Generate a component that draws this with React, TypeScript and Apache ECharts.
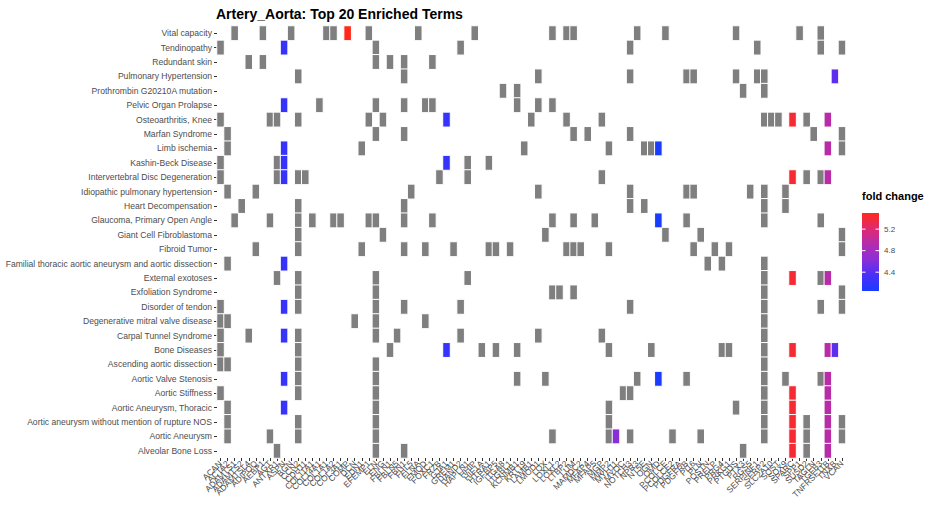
import React, { useEffect, useRef } from "react";
import * as echarts from "echarts";

const terms = [
  "Vital capacity",
  "Tendinopathy",
  "Redundant skin",
  "Pulmonary Hypertension",
  "Prothrombin G20210A mutation",
  "Pelvic Organ Prolapse",
  "Osteoarthritis, Knee",
  "Marfan Syndrome",
  "Limb ischemia",
  "Kashin-Beck Disease",
  "Intervertebral Disc Degeneration",
  "Idiopathic pulmonary hypertension",
  "Heart Decompensation",
  "Glaucoma, Primary Open Angle",
  "Giant Cell Fibroblastoma",
  "Fibroid Tumor",
  "Familial thoracic aortic aneurysm and aortic dissection",
  "External exotoses",
  "Exfoliation Syndrome",
  "Disorder of tendon",
  "Degenerative mitral valve disease",
  "Carpal Tunnel Syndrome",
  "Bone Diseases",
  "Ascending aortic dissection",
  "Aortic Valve Stenosis",
  "Aortic Stiffness",
  "Aortic Aneurysm, Thoracic",
  "Aortic aneurysm without mention of rupture NOS",
  "Aortic Aneurysm",
  "Alveolar Bone Loss",
];

const genes = [
  "ACAN", "ACTA2", "ADAMTS1", "ADAMTS2", "ADAMTSL4", "ADIPOQ", "AEBP1", "AGT", "ANTXR1", "ASPN",
  "BGN", "CCN2", "CDH11", "COL11A1", "COL14A1", "COL1A1", "COL1A2", "COL3A1", "COMP", "DCN",
  "EDN1", "EFEMP1", "ELN", "ENG", "FBLN1", "FBLN5", "FBN1", "FHL5", "FLNA", "FMOD",
  "FOXC1", "FRZB", "GJA1", "GREM1", "HAND2", "HAPLN1", "HHIP", "HIF1A", "HTRA1", "IGFBP5",
  "ITGA8", "ITGBL1", "KCNMB1", "KRT19", "LAMB1", "LMOD1", "LOX", "LOXL1", "LOXL2", "LTBP2",
  "LUM", "MAMDC2", "MFAP4", "MFAP5", "MGP", "MMP2", "MYH11", "MYOC", "NOTCH3", "NPR3",
  "NT5E", "OGN", "OMD", "PCOLCE", "PCOLCE2", "PDGFRA", "PDGFRB", "PI16", "PLN", "POSTN",
  "PRELP", "PRG4", "PRKG1", "PTGDS", "PTX3", "RGS5", "SERPINF1", "SFRP2", "SLC2A10", "SOST",
  "SOX9", "SPARC", "SPP1", "SUSD2", "TAGLN", "TGFB3", "TNFRSF11B", "TNXB", "VCAN",
];

// fold change of the genes that have one (others are drawn grey, NA)
const foldChange: Record<string, number> = {
  ASPN: 4.22,
  COMP: 5.5,
  GJA1: 4.22,
  MYH11: 4.62,
  OMD: 4.05,
  SPARC: 5.42,
  TNFRSF11B: 4.95,
  TNXB: 4.42,
};

// gene indices (into genes) annotated to each term, same order as terms
const termGenes: number[][] = [
  [2, 6, 10, 15, 16, 18, 21, 28, 36, 47, 49, 50, 59, 63, 73, 82, 85],
  [0, 9, 22, 34, 58, 76, 85, 88],
  [4, 6, 22, 24, 26, 30],
  [11, 26, 45, 58, 66, 67, 73, 76, 77, 87],
  [40, 42, 74, 77],
  [9, 14, 22, 26, 29, 30, 42, 45, 47],
  [0, 7, 8, 11, 21, 23, 32, 44, 49, 54, 77, 78, 79, 81, 83, 86],
  [1, 22, 26, 50, 52, 58, 84, 88],
  [1, 9, 20, 43, 55, 60, 61, 62, 86, 88],
  [0, 8, 9, 32, 35, 38],
  [0, 8, 9, 11, 12, 31, 35, 54, 81, 83, 85, 86],
  [1, 5, 27, 45, 58, 66, 67, 75, 77, 80],
  [3, 11, 26, 58, 60, 77, 80],
  [2, 7, 11, 13, 16, 17, 21, 22, 26, 30, 47, 50, 53, 62, 66, 77, 85],
  [11, 23, 46, 63, 68, 88],
  [5, 11, 20, 26, 29, 33, 38, 39, 41, 49, 50, 51, 55, 67, 70, 72, 88],
  [1, 9, 69, 71, 77],
  [8, 11, 22, 35, 77, 81, 85, 86],
  [11, 22, 47, 48, 50, 77, 88],
  [0, 9, 11, 22, 26, 34, 58, 77, 85, 88],
  [0, 1, 19, 22, 29, 77],
  [0, 4, 9, 11, 22, 25, 34, 45, 54, 77],
  [0, 11, 24, 32, 37, 39, 42, 55, 61, 71, 72, 77, 81, 86, 87],
  [0, 1, 11, 22, 77],
  [9, 11, 22, 42, 46, 59, 62, 66, 77, 80, 85, 86],
  [0, 11, 22, 57, 58, 77, 81, 86],
  [1, 9, 22, 55, 73, 77, 81, 86],
  [1, 11, 22, 55, 77, 81, 83, 86, 88],
  [1, 7, 11, 22, 47, 55, 56, 58, 64, 68, 77, 81, 83, 86, 88],
  [8, 22, 26, 74, 81, 83, 86],
];

const legendTicks = [5.2, 4.8, 4.4];
const fcColors = ["#1a3cff", "#4a2ff8", "#8a2ed8", "#b42caf", "#e02a70", "#ff2a1a"];

const FONT = "'Liberation Sans', Arial, Helvetica, sans-serif";

export default function App() {
  const ref = useRef<HTMLDivElement>(null);

  useEffect(() => {
    if (!ref.current) return;
    const chart = echarts.init(ref.current, undefined, { renderer: "svg" });

    const fcVals = Object.values(foldChange);
    const fcMin = Math.min(...fcVals);
    const fcMax = Math.max(...fcVals);

    const greyData: any[] = [];
    const colorData: any[] = [];
    termGenes.forEach((list, ti) => {
      list.forEach((gi) => {
        const g = genes[gi];
        const fc = foldChange[g];
        if (fc === undefined) greyData.push([gi, ti, 1]);
        else colorData.push([gi, ti, fc]);
      });
    });

    // legend geometry
    const barX = 862;
    const barY = 213;
    const barW = 17;
    const barH = 78;
    const yOf = (v: number) => barY + ((fcMax - v) / (fcMax - fcMin)) * barH;

    const graphics: any[] = [
      {
        type: "text",
        left: 862,
        top: 190,
        style: { text: "fold change", font: `bold 11px ${FONT}`, fill: "#000" },
      },
      {
        type: "rect",
        shape: { x: barX, y: barY, width: barW, height: barH },
        style: {
          fill: new echarts.graphic.LinearGradient(
            0, 1, 0, 0,
            fcColors.map((c, i) => ({ offset: i / (fcColors.length - 1), color: c }))
          ),
        },
      },
    ];
    legendTicks.forEach((t) => {
      const y = yOf(t);
      graphics.push({
        type: "line",
        shape: { x1: barX, y1: y, x2: barX + 3.5, y2: y },
        style: { stroke: "#fff", lineWidth: 1 },
      });
      graphics.push({
        type: "line",
        shape: { x1: barX + barW - 3.5, y1: y, x2: barX + barW, y2: y },
        style: { stroke: "#fff", lineWidth: 1 },
      });
      graphics.push({
        type: "text",
        x: barX + barW + 5,
        y: y,
        style: {
          text: t.toFixed(1),
          font: `8px ${FONT}`,
          fill: "#4d4d4d",
          verticalAlign: "middle",
        },
      });
    });

    chart.setOption({
      animation: false,
      backgroundColor: "#fff",
      title: {
        text: "Artery_Aorta: Top 20 Enriched Terms",
        left: 211,
        top: 2,
        textStyle: { fontFamily: FONT, fontSize: 14, fontWeight: "bold", color: "#000" },
      },
      grid: { left: 217, top: 26, width: 628.5, height: 432 },
      xAxis: {
        type: "category",
        data: genes,
        axisLine: { show: false },
        axisTick: { show: true, alignWithLabel: true, length: 3, lineStyle: { color: "#333" } },
        axisLabel: {
          interval: 0,
          rotate: 45,
          margin: 4,
          fontSize: 8.5,
          fontFamily: FONT,
          color: "#4d4d4d",
        },
        splitLine: { show: false },
      },
      yAxis: {
        type: "category",
        data: terms,
        inverse: true,
        axisLine: { show: false },
        axisTick: { show: true, alignWithLabel: true, length: 3, lineStyle: { color: "#333" } },
        axisLabel: {
          interval: 0,
          margin: 5,
          fontSize: 8.6,
          fontFamily: FONT,
          color: "#4d4d4d",
        },
        splitLine: { show: false },
      },
      visualMap: [
        {
          type: "continuous",
          show: false,
          seriesIndex: 1,
          min: fcMin,
          max: fcMax,
          dimension: 2,
          inRange: { color: fcColors },
        },
        {
          type: "piecewise",
          show: false,
          seriesIndex: 0,
          dimension: 2,
          pieces: [{ value: 1, color: "#7f7f7f" }],
        },
      ],
      series: [
        {
          type: "heatmap",
          data: greyData,
          itemStyle: { borderColor: "#fff", borderWidth: 1 },
          emphasis: { disabled: true },
        },
        {
          type: "heatmap",
          data: colorData,
          itemStyle: { borderColor: "#fff", borderWidth: 1 },
          emphasis: { disabled: true },
        },
      ],
      graphic: graphics,
    });

    return () => chart.dispose();
  }, []);

  return (
    <div
      ref={ref}
      style={{ position: "fixed", left: 0, top: 0, width: 938, height: 516, background: "#fff" }}
    />
  );
}
